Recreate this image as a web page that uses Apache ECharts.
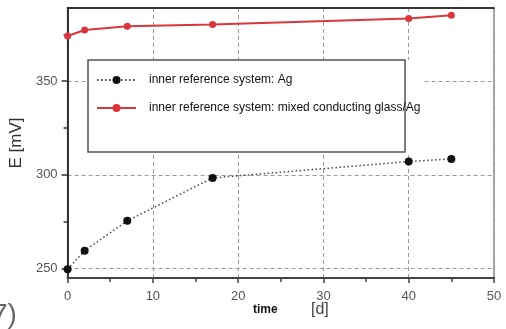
<!DOCTYPE html>
<html>
<head>
<meta charset="utf-8">
<script src="https://cdn.jsdelivr.net/npm/echarts@6/dist/echarts.min.js"></script>
<style>html,body{margin:0;padding:0;background:#fff}#c{width:506px;height:329px}</style>
</head>
<body>
<div id="c"></div>
<script>
const days = [0, 2, 7, 17, 40, 45];
const agValues = [249.7, 259.6, 275.5, 298.4, 307.1, 308.5];
const glassValues = [374.1, 377.3, 379.3, 380.2, 383.4, 385.1];
const seriesNames = ['inner reference system: Ag', 'inner reference system: mixed conducting glass/Ag'];
const yMajorTicks = [250, 300, 350];
const yMinorTicks = [275, 325, 375];
const xAxisTitle = 'time';
const xAxisUnit = '[d]';
const yAxisTitle = 'E [mV]';
const panelLabel = '7)';

const chart = echarts.init(document.getElementById('c'), null, {renderer: 'canvas'});
const pair = (xs, ys) => xs.map((x, i) => [x, ys[i]]);
const gridLine = {show: true, lineStyle: {color: '#9a9a9a', width: 1, type: [4, 3]}};
const labelStyle = {color: '#555', fontSize: 13, fontFamily: 'Liberation Sans, Arial, sans-serif'};

chart.setOption({
  animation: false,
  backgroundColor: '#fff',
  grid: {left: 67, right: 12, top: 8, bottom: 51, show: true, borderColor: '#8a8a8a', borderWidth: 1.5},
  xAxis: [{
    type: 'value', min: 0, max: 50, interval: 10,
    axisLine: {show: true, onZero: false, lineStyle: {color: '#444', width: 2}},
    axisTick: {show: true, length: 5, lineStyle: {color: '#444', width: 1.5}},
    minorTick: {show: true, splitNumber: 2, length: 4, lineStyle: {color: '#444', width: 1.5}},
    axisLabel: Object.assign({margin: 12}, labelStyle),
    splitLine: gridLine
  }, {
    type: 'value', position: 'top', min: 0, max: 50,
    axisLine: {show: true, onZero: false, lineStyle: {color: '#111', width: 1.5}},
    axisTick: {show: false}, axisLabel: {show: false}, splitLine: {show: false}
  }],
  yAxis: [{
    type: 'value', min: 245, max: 389,
    axisLine: {show: true, onZero: false, lineStyle: {color: '#333', width: 2}},
    axisTick: {show: true, length: 6, customValues: yMajorTicks, lineStyle: {color: '#333', width: 1.5}},
    axisLabel: Object.assign({margin: 10, customValues: yMajorTicks}, labelStyle),
    splitLine: gridLine,
    name: yAxisTitle, nameLocation: 'middle', nameGap: 31, nameRotate: 90,
    nameTextStyle: {color: '#333', fontSize: 17, fontFamily: 'Liberation Sans, Arial, sans-serif'}
  }, {
    type: 'value', min: 245, max: 389, position: 'left',
    axisLine: {show: false},
    axisTick: {show: true, length: 4, customValues: yMinorTicks, lineStyle: {color: '#333', width: 1.5}},
    axisLabel: {show: false}, splitLine: {show: false}
  }],
  legend: {
    orient: 'vertical', left: 96, top: 73, padding: 0,
    itemWidth: 39, itemHeight: 10, itemGap: 14,
    data: seriesNames,
    textStyle: {color: '#111', fontSize: 12, lineHeight: 14, fontFamily: 'Liberation Sans, Arial, sans-serif', padding: [0, 0, 0, 8]},
    z: 6
  },
  graphic: [
    {type: 'rect', z: 1, shape: {x: 88, y: 60, width: 334, height: 92}, style: {fill: '#fff'}},
    {type: 'rect', z: 1, shape: {x: 88, y: 60, width: 317, height: 92}, style: {fill: 'none', stroke: '#555', lineWidth: 1.5}},
    {type: 'text', left: 253, top: 304, style: {text: xAxisTitle, fill: '#111', font: 'bold 12px Liberation Sans, Arial, sans-serif'}},
    {type: 'text', left: 311, top: 302, style: {text: xAxisUnit, fill: '#444', font: '16px Liberation Sans, Arial, sans-serif'}},
    {type: 'text', left: -8, top: 301, style: {text: panelLabel, fill: '#666', font: '28px Liberation Sans, Arial, sans-serif'}}
  ],
  series: [{
    name: seriesNames[0], type: 'line', data: pair(days, agValues),
    symbol: 'circle', symbolSize: 8, z: 3,
    lineStyle: {color: '#444', width: 1.5, type: [1.5, 2.5]},
    itemStyle: {color: '#111'}
  }, {
    name: seriesNames[1], type: 'line', data: pair(days, glassValues),
    symbol: 'circle', symbolSize: 7, z: 3,
    lineStyle: {color: '#d9363e', width: 2},
    itemStyle: {color: '#d9363e'}
  }]
});
</script>
</body>
</html>
